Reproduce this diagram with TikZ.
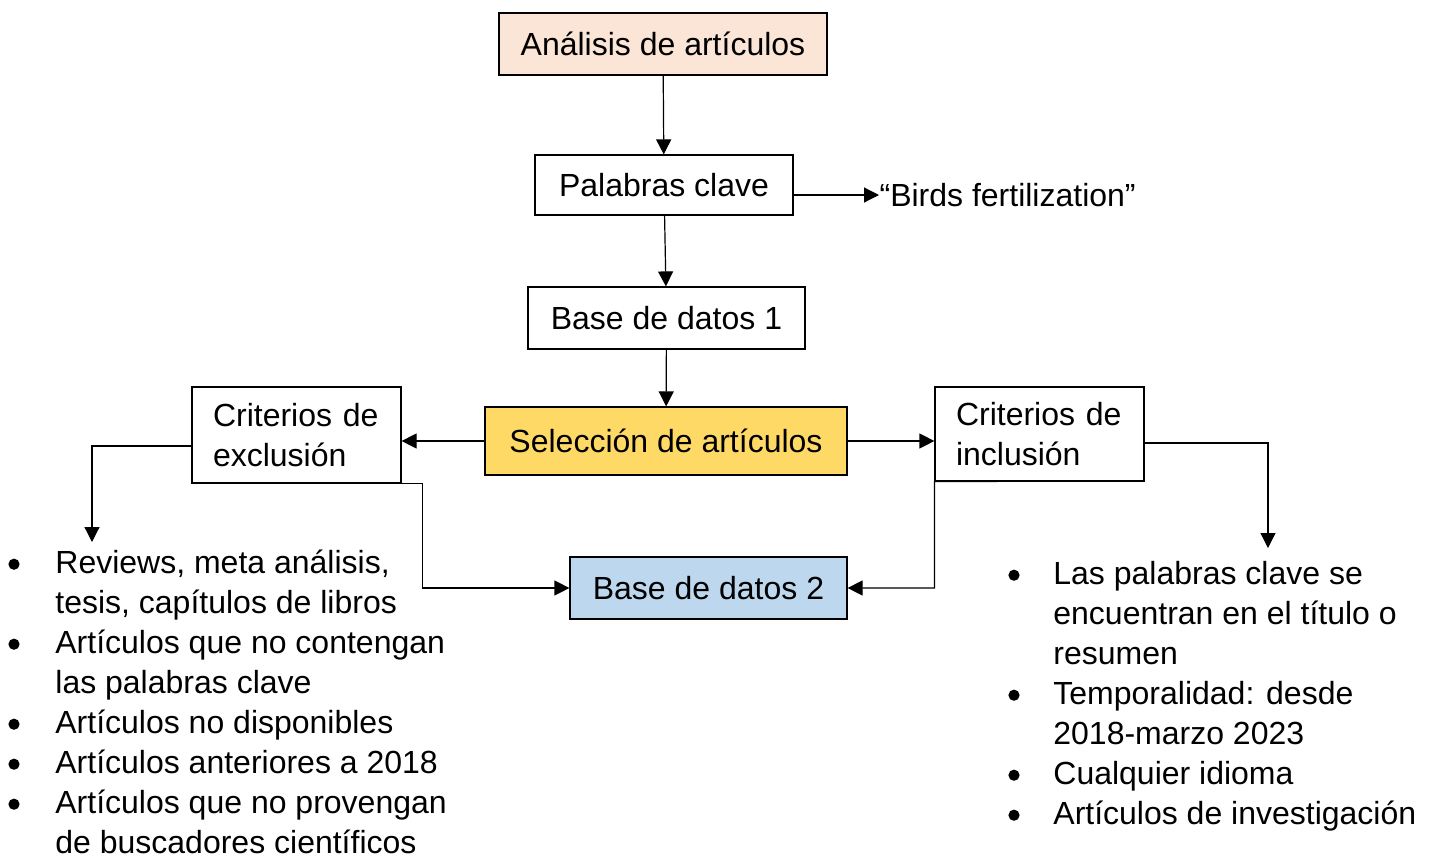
\documentclass[tikz,border=0pt]{standalone}
\usepackage{fontspec}
\setmainfont{Liberation Sans}
\usepackage{xcolor}
\usetikzlibrary{arrows.meta,calc,positioning}
\definecolor{boxcolor1}{RGB}{251, 229, 214}
\definecolor{boxcolor2}{RGB}{255, 217, 102}
\definecolor{boxcolor3}{RGB}{189, 215, 238}
\definecolor{edgecolor1}{RGB}{0, 0, 0}
\newcommand{\listdot}{\tikz[baseline=0pt]\fill (2.8pt,4.6pt) circle (2.8pt);}

\begin{document}
\begin{tikzpicture}[x=0.5pt, y=-0.5pt,
  font=\fontsize{16}{20}\selectfont,
  box/.style={draw=edgecolor1, line width=0.6pt, inner sep=0pt, text height=12pt, text depth=0.5pt},
  critbox/.style={draw=edgecolor1, line width=0.6pt, align=left, text width=83.5pt, inner xsep=10.5pt, inner ysep=0pt, minimum height=48pt},
  listbox/.style={inner sep=0pt, anchor=north west},
  arr/.style={draw=edgecolor1, line width=0.6pt, -{Triangle[length=7.5pt,width=7.5pt]}}]

  % Page frame
  \useasboundingbox (0,0) rectangle (1432,858);

  % Main column
  \node[box, fill=boxcolor1, minimum width=164pt, minimum height=31pt] (analisis) at (663,44) {Análisis de artículos};
  \node[box, minimum width=129pt, minimum height=30pt] (palabras) at (664,185) {Palabras clave};
  \node[box, anchor=west, draw=none] (birds) at (879,195) {“Birds fertilization”};
  \node[box, minimum width=138.5pt, minimum height=31pt] (base1) at (666.5,318) {Base de datos 1};
  \node[box, fill=boxcolor2, minimum width=181pt, minimum height=34pt] (seleccion) at (666,441) {Selección de artículos};
  \node[box, fill=boxcolor3, minimum width=138.5pt, minimum height=31pt] (base2) at (708.5,588) {Base de datos 2};

  % Criteria
  \node[critbox] (exclusion) at (296.5,435) {Criterios de\\exclusión};
  \node[critbox, minimum height=47pt] (inclusion) at (1039.5,434) {Criterios de\\inclusión};

  % Lists
  \node[listbox] (exList) at (8,545) {\begin{tabular}{@{}p{23.5pt}@{}l@{}}
    \listdot & Reviews, meta análisis,\\
     & tesis, capítulos de libros\\
    \listdot & Artículos que no contengan\\
     & las palabras clave\\
    \listdot & Artículos no disponibles\\
    \listdot & Artículos anteriores a 2018\\
    \listdot & Artículos que no provengan\\
     & de buscadores científicos
  \end{tabular}};
  \node[listbox] (inList) at (1008,556) {\begin{tabular}{@{}p{22.5pt}@{}l@{}}
    \listdot & Las palabras clave se\\
     & encuentran en el título o\\
     & resumen\\
    \listdot & Temporalidad: desde\\
     & 2018-marzo 2023\\
    \listdot & Cualquier idioma\\
    \listdot & Artículos de investigación
  \end{tabular}};

  % Arrow ends above the lists
  \coordinate (exTip) at (92,542);
  \coordinate (inTip) at (1268,548);

  % Connectors
  \draw[arr] (analisis) -- (palabras);
  \draw[arr] (palabras.east |- birds.west) -- (birds.west);
  \draw[arr] (palabras) -- (base1);
  \draw[arr] (base1) -- (seleccion);
  \draw[arr] (seleccion.west) -- (seleccion.west -| exclusion.east);
  \draw[arr] (seleccion.east) -- (seleccion.east -| inclusion.west);
  \draw[arr] ([yshift=-5.5pt]exclusion.west) -| (exTip);
  \draw[arr] ([yshift=-4.5pt]inclusion.east) -| (inTip);
  \draw[arr] ($(exclusion.south west)!0.67!(exclusion.south east)$) -- ++(90,0) |- (base2.west);
  \draw[arr] ($(inclusion.south west)!0.3!(inclusion.south east)$) -- (inclusion.south west) |- (base2.east);

\end{tikzpicture}
\end{document}
